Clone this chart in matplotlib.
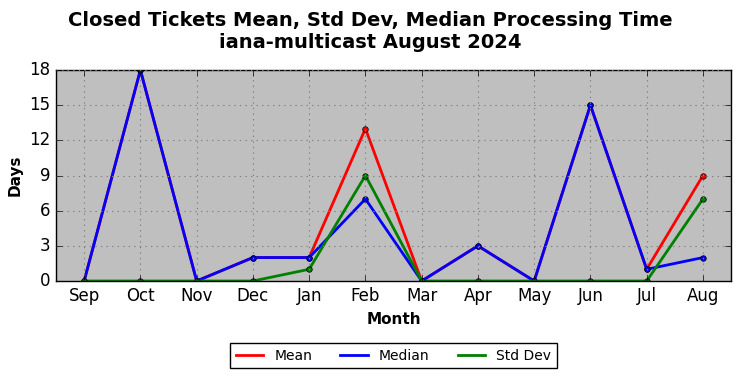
import matplotlib
matplotlib.use('Agg')
import matplotlib.pyplot as plt

plt.style.use('classic')

months = ['Sep', 'Oct', 'Nov', 'Dec', 'Jan', 'Feb', 'Mar', 'Apr', 'May', 'Jun', 'Jul', 'Aug']
mean = [0, 18, 0, 2, 2, 13, 0, 3, 0, 15, 1, 9]
median = [0, 18, 0, 2, 2, 7, 0, 3, 0, 15, 1, 2]
std_dev = [0, 0, 0, 0, 1, 9, 0, 0, 0, 0, 0, 7]

fig = plt.figure(figsize=(7.41, 3.78), dpi=100, facecolor='white')
ax = fig.add_axes([0.0756, 0.2566, 0.911, 0.5582])
ax.set_facecolor('#bfbfbf')

x = range(len(months))
ax.plot(x, mean, color='red', lw=2, marker='o', markersize=4, label='Mean')
ax.plot(x, median, color='blue', lw=2, marker='o', markersize=4, label='Median')
ax.plot(x, std_dev, color='green', lw=2, marker='o', markersize=4, label='Std Dev')

ax.set_xlim(-0.5, 11.5)
ax.set_ylim(0, 18)
ax.set_xticks(list(x))
ax.set_xticklabels(months, fontsize=12)
ax.set_yticks(range(0, 19, 3))
ax.tick_params(axis='y', labelsize=12)
ax.grid(True, color='grey', linestyle=':', linewidth=0.8)

ax.set_xlabel('Month', fontsize=11, fontweight='bold')
ax.set_ylabel('Days', fontsize=11, fontweight='bold')
fig.suptitle('Closed Tickets Mean, Std Dev, Median Processing Time\niana-multicast August 2024',
             fontsize=14, fontweight='bold', y=0.97)

ax.legend(loc='upper center', bbox_to_anchor=(0.5, -0.262), ncol=3, fontsize=10,
          frameon=True, fancybox=False, numpoints=1,
          handlelength=2.0, columnspacing=2.0)
leg = ax.get_legend()
for h in leg.get_lines():
    h.set_marker('')

fig.savefig('out.png', dpi=100, facecolor='white')
